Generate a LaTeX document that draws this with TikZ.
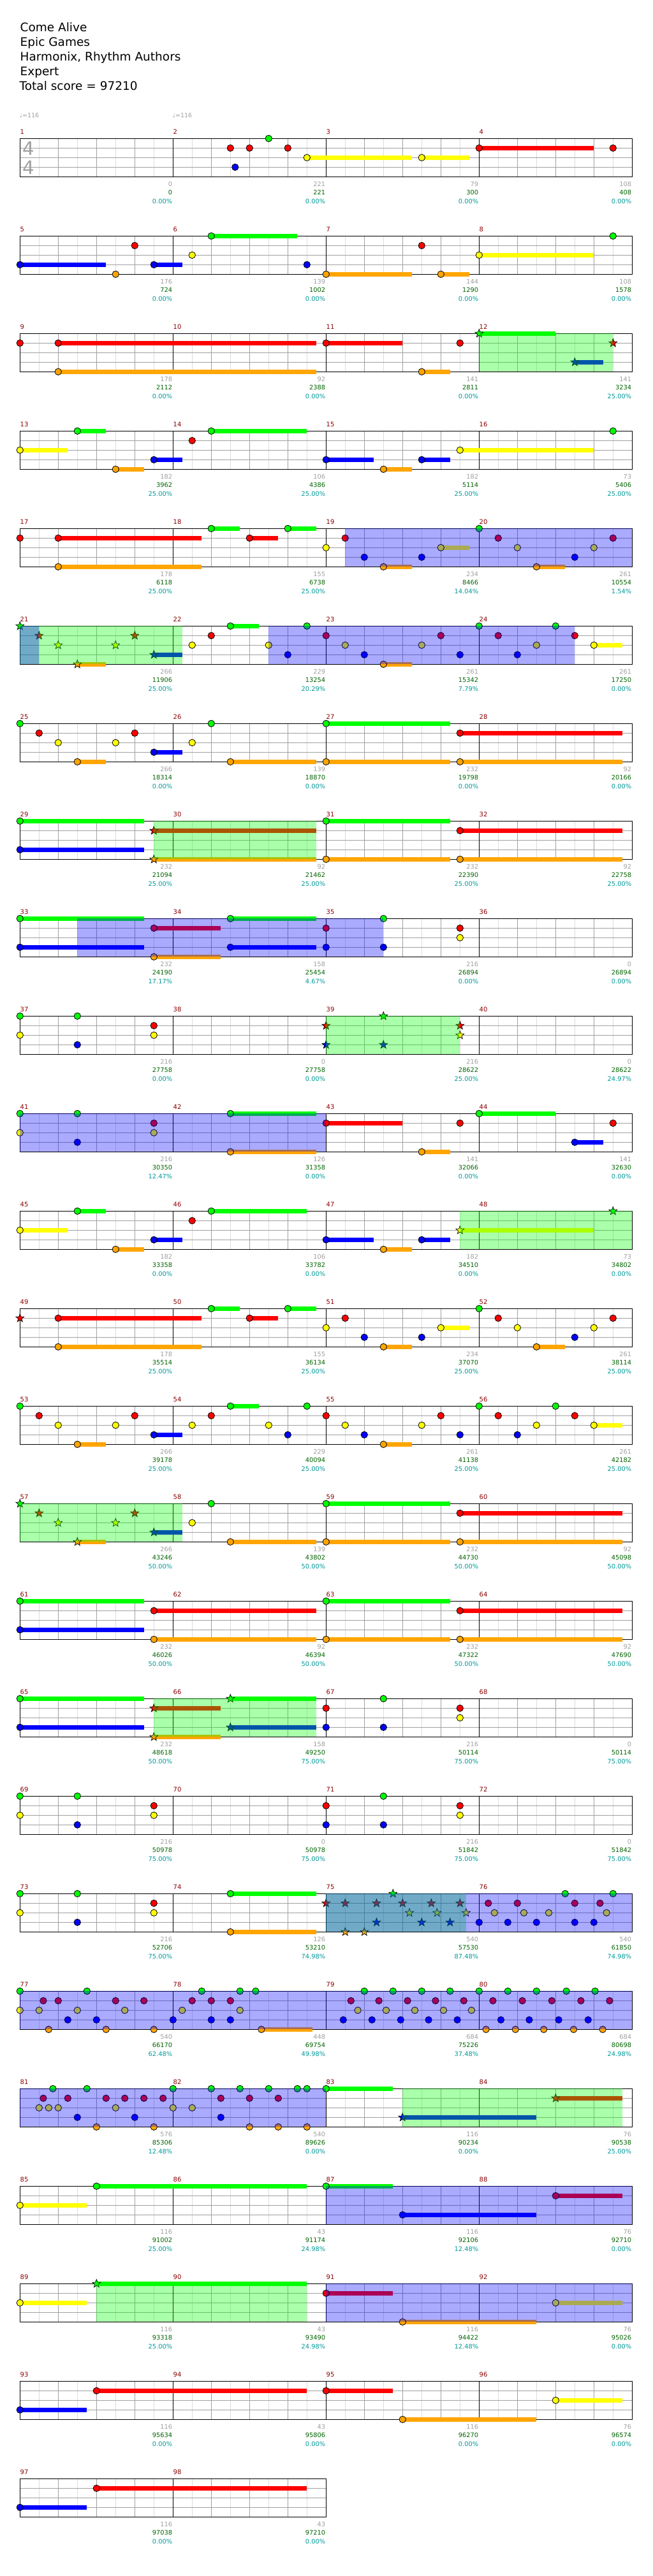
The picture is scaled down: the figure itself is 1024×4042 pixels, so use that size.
\documentclass[tikz,border=0pt]{standalone}
\usepackage{fontspec}
\setmainfont{DejaVu Sans}
\definecolor{lane0}{RGB}{0,255,0}
\definecolor{lane1}{RGB}{255,0,0}
\definecolor{lane2}{RGB}{255,255,0}
\definecolor{lane3}{RGB}{0,0,255}
\definecolor{lane4}{RGB}{255,165,0}
\definecolor{gridd}{RGB}{160,160,160}
\definecolor{gridl}{RGB}{220,220,220}
\definecolor{mnum}{RGB}{139,0,0}
\definecolor{scgray}{RGB}{160,160,160}
\definecolor{scgreen}{RGB}{0,100,0}
\definecolor{sccyan}{RGB}{0,153,153}
\tikzset{
  notestyle/.style={draw=black, line width=0.8},
  susstyle/.style={line width=6.5},
  mnumst/.style={text=mnum, inner sep=0, font=\fontsize{10}{12}\selectfont},
  scst/.style={inner sep=0, font=\fontsize{9.8}{12}\selectfont},
  titlest/.style={inner sep=0, anchor=base west, font=\fontsize{18.5}{22}\selectfont}
}
\newcommand\NoteAt[3]{\edef\tmpcol{lane#3}\filldraw[notestyle, fill=\tmpcol] ({31.3+60*(#2)},{217.3+153*(#1)+15*(#3)}) circle[radius=5.2];}
\newcommand\StarAt[3]{\edef\tmpcol{lane#3}\filldraw[notestyle, line width=0.7, fill=\tmpcol, shift={({31.3+60*(#2)},{217.3+153*(#1)+15*(#3)})}] (-90:6.8) -- (-54:2.8) -- (-18:6.8) -- (18:2.8) -- (54:6.8) -- (90:2.8) -- (126:6.8) -- (162:2.8) -- (198:6.8) -- (234:2.8) -- cycle;}
\newcommand\SusAt[4]{\edef\tmpcol{lane#4}\draw[susstyle, draw=\tmpcol] ({31.3+60*(#2)},{217.3+153*(#1)+15*(#4)}) -- ({31.3+60*(#3)},{217.3+153*(#1)+15*(#4)});}
\newcommand\Notes[2]{\foreach \xb/\xl in {#2}{\NoteAt{#1}{\xb}{\xl}}}
\newcommand\Stars[2]{\foreach \xb/\xl in {#2}{\StarAt{#1}{\xb}{\xl}}}
\newcommand\Sus[2]{\foreach \xb/\xe/\xl in {#2}{\SusAt{#1}{\xb}{\xe}{\xl}}}
\newcommand\GreenReg[3]{\fill[lane0, fill opacity=0.333] ({31.3+60*(#2)},{217.3+153*(#1)}) rectangle ({31.3+60*(#3)},{217.3+153*(#1)+60});}
\newcommand\BlueReg[3]{\fill[lane3, fill opacity=0.333] ({31.3+60*(#2)},{217.3+153*(#1)}) rectangle ({31.3+60*(#3)},{217.3+153*(#1)+60});}
\newcommand\MeasGrid[2]{%
  \begin{scope}[shift={({31.3+240*(#2)},{217.3+153*(#1)})}]
    \foreach \gx in {30,90,150,210} \draw[gridl] (\gx,0) -- (\gx,60);
    \foreach \gx in {60,120,180} \draw[gridd] (\gx,0) -- (\gx,60);
    \foreach \gy in {15,30,45} \draw[gridd] (0,\gy) -- (240,\gy);
    \draw[black] (0,0) rectangle (240,60);
  \end{scope}}
\begin{document}
\begin{tikzpicture}[x=1pt, y=-1pt]
\useasboundingbox (0,0) rectangle (1024,4042);
\fill[white] (0,0) rectangle (1024,4042);
% title
\node[titlest] (t1) at (31.5,49.3) {Come Alive};
\node[titlest] (t2) at (31.5,72.3) {Epic Games};
\node[titlest] (t3) at (31.5,95.5) {Harmonix, Rhythm Authors};
\node[titlest] (t4) at (31.5,118.3) {Expert};
\node[titlest] (t5) at (30.5,141.2) {Total score = 97210};
% tempo
\node[inner sep=0, anchor=base west, text=scgray, font=\fontsize{9.5}{11}\selectfont] (tp1) at (30.5,184) {♩=116};
\node[inner sep=0, anchor=base west, text=scgray, font=\fontsize{9.5}{11}\selectfont] (tp2) at (270.5,184) {♩=116};
% grids and measure numbers
\foreach \mm in {1,...,98}{%
  \pgfmathtruncatemacro\rr{(\mm-1)/4}%
  \pgfmathtruncatemacro\cc{mod(\mm-1,4)}%
  \MeasGrid{\rr}{\cc}
  \node[mnumst, anchor=base west] (mn\mm) at ({31.5+240*\cc},{217.3+153*\rr-7.3}) {\mm};
}
% time signature
\node[inner sep=0, text=gridd, font=\fontsize{29}{30}\selectfont] (ts1) at (44.5,232.6) {4};
\node[inner sep=0, text=gridd, font=\fontsize{29}{30}\selectfont] (ts2) at (44.5,262.6) {4};
% scores
\foreach \mm/\xa/\xc/\xp in {1/0/0/0.00, 2/221/221/0.00, 3/79/300/0.00, 4/108/408/0.00,
 5/176/724/0.00, 6/139/1002/0.00, 7/144/1290/0.00, 8/108/1578/0.00,
 9/178/2112/0.00, 10/92/2388/0.00, 11/141/2811/0.00, 12/141/3234/25.00,
 13/182/3962/25.00, 14/106/4386/25.00, 15/182/5114/25.00, 16/73/5406/25.00,
 17/178/6118/25.00, 18/155/6738/25.00, 19/234/8466/14.04, 20/261/10554/1.54,
 21/266/11906/25.00, 22/229/13254/20.29, 23/261/15342/7.79, 24/261/17250/0.00,
 25/266/18314/0.00, 26/139/18870/0.00, 27/232/19798/0.00, 28/92/20166/0.00,
 29/232/21094/25.00, 30/92/21462/25.00, 31/232/22390/25.00, 32/92/22758/25.00,
 33/232/24190/17.17, 34/158/25454/4.67, 35/216/26894/0.00, 36/0/26894/0.00,
 37/216/27758/0.00, 38/0/27758/0.00, 39/216/28622/25.00, 40/0/28622/24.97,
 41/216/30350/12.47, 42/126/31358/0.00, 43/141/32066/0.00, 44/141/32630/0.00,
 45/182/33358/0.00, 46/106/33782/0.00, 47/182/34510/0.00, 48/73/34802/0.00,
 49/178/35514/25.00, 50/155/36134/25.00, 51/234/37070/25.00, 52/261/38114/25.00,
 53/266/39178/25.00, 54/229/40094/25.00, 55/261/41138/25.00, 56/261/42182/25.00,
 57/266/43246/50.00, 58/139/43802/50.00, 59/232/44730/50.00, 60/92/45098/50.00,
 61/232/46026/50.00, 62/92/46394/50.00, 63/232/47322/50.00, 64/92/47690/50.00,
 65/232/48618/50.00, 66/158/49250/75.00, 67/216/50114/75.00, 68/0/50114/75.00,
 69/216/50978/75.00, 70/0/50978/75.00, 71/216/51842/75.00, 72/0/51842/75.00,
 73/216/52706/75.00, 74/126/53210/74.98, 75/540/57530/87.48, 76/540/61850/74.98,
 77/540/66170/62.48, 78/448/69754/49.98, 79/684/75226/37.48, 80/684/80698/24.98,
 81/576/85306/12.48, 82/540/89626/0.00, 83/116/90234/0.00, 84/76/90538/25.00,
 85/116/91002/25.00, 86/43/91174/24.98, 87/116/92106/12.48, 88/76/92710/0.00,
 89/116/93318/25.00, 90/43/93490/24.98, 91/116/94422/12.48, 92/76/95026/0.00,
 93/116/95634/0.00, 94/43/95806/0.00, 95/116/96270/0.00, 96/76/96574/0.00,
 97/116/97038/0.00, 98/43/97210/0.00}{%
  \pgfmathtruncatemacro\rr{(\mm-1)/4}%
  \pgfmathtruncatemacro\cc{mod(\mm-1,4)}%
  \node[scst, text=scgray, anchor=base east] (sa\mm) at ({31.3+240*(\cc+1)-1},{217.3+153*\rr+75.4}) {\xa};
  \node[scst, text=scgreen, anchor=base east] (sb\mm) at ({31.3+240*(\cc+1)-1},{217.3+153*\rr+88.6}) {\xc};
  \node[scst, text=sccyan, anchor=base east] (sc\mm) at ({31.3+240*(\cc+1)-1},{217.3+153*\rr+102}) {\xp\%};
}
% ---------- row 0
\Sus{0}{7.5/10.24/2, 10.5/11.74/2, 12/15/1}
\Notes{0}{5.5/1, 5.625/3, 6/1, 6.5/0, 7/1, 7.5/2, 10.5/2, 12/1, 15.5/1}
% ---------- row 1
\Sus{1}{0/2.24/3, 3.5/4.24/3, 5/7.25/0, 8/10.24/4, 11/11.74/4, 12/15/2}
\Notes{1}{0/3, 2.5/4, 3/1, 3.5/3, 4.5/2, 5/0, 7.5/3, 8/4, 10.5/1, 11/4, 12/2, 15.5/0}
% ---------- row 2
\Sus{2}{1/7.74/1, 1/7.74/4, 8/10/1, 10.5/11.24/4, 12/14/0, 14.5/15.25/3}
\Notes{2}{0/1, 1/1, 1/4, 8/1, 10.5/4, 11.5/1}
\Stars{2}{12/0, 14.5/3, 15.5/1}
\GreenReg{2}{12}{15.5}
% ---------- row 3
\Sus{3}{0/1.24/2, 1.5/2.24/0, 2.5/3.24/4, 3.5/4.24/3, 5/7.5/0, 8/9.24/3, 9.5/10.24/4, 10.5/11.24/3, 11.5/15/2}
\Notes{3}{0/2, 1.5/0, 2.5/4, 3.5/3, 4.5/1, 5/0, 8/3, 9.5/4, 10.5/3, 11.5/2, 15.5/0}
% ---------- row 4
\Sus{4}{1/4.75/1, 1/4.75/4, 5/5.75/0, 6/6.75/1, 7/7.74/0, 9.5/10.24/4, 11/11.74/2, 13.5/14.25/4}
\Notes{4}{0/1, 1/1, 1/4, 5/0, 6/1, 7/0, 8/2, 8.5/1, 9/3, 9.5/4, 10.5/3, 11/2, 12/0, 12.5/1, 13/2, 13.5/4, 14.5/3, 15/2, 15.5/1}
\BlueReg{4}{8.5}{16}
% ---------- row 5
\Sus{5}{1.5/2.24/4, 3.5/4.24/3, 5.5/6.25/0, 9.5/10.24/4, 15/15.74/2}
\Stars{5}{0/0, 0.5/1, 1/2, 1.5/4, 2.5/2, 3/1, 3.5/3}
\Notes{5}{4.5/2, 5/1, 5.5/0, 6.5/2, 7/3, 7.5/0, 8/1, 8.5/2, 9/3, 9.5/4, 10.5/2, 11/1, 11.5/3, 12/0, 12.5/1, 13/3, 13.5/2, 14/0, 14.5/1, 15/2}
\GreenReg{5}{0}{4.24}
\BlueReg{5}{0}{0.5}
\BlueReg{5}{6.5}{14.5}
% ---------- row 6
\Sus{6}{1.5/2.24/4, 3.5/4.24/3, 5.5/7.74/4, 8/11.24/0, 8/11.24/4, 11.5/15.74/1, 11.5/15.74/4}
\Notes{6}{0/0, 0.5/1, 1/2, 1.5/4, 2.5/2, 3/1, 3.5/3, 4.5/2, 5/0, 5.5/4, 8/0, 8/4, 11.5/1, 11.5/4}
% ---------- row 7
\Sus{7}{0/3.24/0, 0/3.24/3, 3.5/7.74/1, 3.5/7.74/4, 8/11.24/0, 8/11.24/4, 11.5/15.74/1, 11.5/15.74/4}
\Notes{7}{0/0, 0/3, 8/0, 8/4, 11.5/1, 11.5/4}
\Stars{7}{3.5/1, 3.5/4}
\GreenReg{7}{3.5}{7.74}
% ---------- row 8
\Sus{8}{0/3.24/0, 0/3.24/3, 3.5/5.25/1, 3.5/5.25/4, 5.5/7.74/0, 5.5/7.74/3}
\Notes{8}{0/0, 0/3, 3.5/1, 3.5/4, 5.5/0, 5.5/3, 8/1, 8/3, 9.5/0, 9.5/3, 11.5/1, 11.5/2}
\BlueReg{8}{1.5}{9.5}
% ---------- row 9
\Notes{9}{0/0, 0/2, 1.5/0, 1.5/3, 3.5/1, 3.5/2}
\Stars{9}{8/1, 8/3, 9.5/0, 9.5/3, 11.5/1, 11.5/2}
\GreenReg{9}{8}{11.5}
% ---------- row 10
\Sus{10}{5.5/7.74/0, 5.5/7.74/4, 8/10/1, 10.5/11.24/4, 12/14/0, 14.5/15.25/3}
\Notes{10}{0/0, 0/2, 1.5/0, 1.5/3, 3.5/1, 3.5/2, 5.5/0, 5.5/4, 8/1, 10.5/4, 11.5/1, 12/0, 14.5/3, 15.5/1}
\BlueReg{10}{0}{8}
% ---------- row 11
\Sus{11}{0/1.24/2, 1.5/2.24/0, 2.5/3.24/4, 3.5/4.24/3, 5/7.5/0, 8/9.24/3, 9.5/10.24/4, 10.5/11.24/3, 11.5/15/2}
\Notes{11}{0/2, 1.5/0, 2.5/4, 3.5/3, 4.5/1, 5/0, 8/3, 9.5/4, 10.5/3}
\Stars{11}{11.5/2, 15.5/0}
\GreenReg{11}{11.5}{16}
% ---------- row 12
\Sus{12}{1/4.75/1, 1/4.75/4, 5/5.75/0, 6/6.75/1, 7/7.74/0, 9.5/10.24/4, 11/11.74/2, 13.5/14.25/4}
\Stars{12}{0/1}
\Notes{12}{1/1, 1/4, 5/0, 6/1, 7/0, 8/2, 8.5/1, 9/3, 9.5/4, 10.5/3, 11/2, 12/0, 12.5/1, 13/2, 13.5/4, 14.5/3, 15/2, 15.5/1}
% ---------- row 13
\Sus{13}{1.5/2.24/4, 3.5/4.24/3, 5.5/6.25/0, 9.5/10.24/4, 15/15.74/2}
\Notes{13}{0/0, 0.5/1, 1/2, 1.5/4, 2.5/2, 3/1, 3.5/3, 4.5/2, 5/1, 5.5/0, 6.5/2, 7/3, 7.5/0, 8/1, 8.5/2, 9/3, 9.5/4, 10.5/2, 11/1, 11.5/3, 12/0, 12.5/1, 13/3, 13.5/2, 14/0, 14.5/1, 15/2}
% ---------- row 14
\Sus{14}{1.5/2.24/4, 3.5/4.24/3, 5.5/7.74/4, 8/11.24/0, 8/11.24/4, 11.5/15.74/1, 11.5/15.74/4}
\Stars{14}{0/0, 0.5/1, 1/2, 1.5/4, 2.5/2, 3/1, 3.5/3}
\Notes{14}{4.5/2, 5/0, 5.5/4, 8/0, 8/4, 11.5/1, 11.5/4}
\GreenReg{14}{0}{4.24}
% ---------- row 15
\Sus{15}{0/3.24/0, 0/3.24/3, 3.5/7.74/1, 3.5/7.74/4, 8/11.24/0, 8/11.24/4, 11.5/15.74/1, 11.5/15.74/4}
\Notes{15}{0/0, 0/3, 3.5/1, 3.5/4, 8/0, 8/4, 11.5/1, 11.5/4}
% ---------- row 16
\Sus{16}{0/3.24/0, 0/3.24/3, 3.5/5.25/1, 3.5/5.25/4, 5.5/7.74/0, 5.5/7.74/3}
\Notes{16}{0/0, 0/3, 8/1, 8/3, 9.5/0, 9.5/3, 11.5/1, 11.5/2}
\Stars{16}{3.5/1, 3.5/4, 5.5/0, 5.5/3}
\GreenReg{16}{3.5}{7.74}
% ---------- row 17
\Notes{17}{0/0, 0/2, 1.5/0, 1.5/3, 3.5/1, 3.5/2, 8/1, 8/3, 9.5/0, 9.5/3, 11.5/1, 11.5/2}
% ---------- row 18
\Sus{18}{5.5/7.74/0, 5.5/7.74/4}
\Notes{18}{0/0, 0/2, 1.5/0, 1.5/3, 3.5/1, 3.5/2, 5.5/0, 5.5/4,
 12.24/1, 13/1, 14.5/1, 15.16/1, 14.25/0, 15.5/0, 12.4/2, 13.17/2, 13.82/2, 15.33/2, 12/3, 12.75/3, 13.5/3, 14.5/3, 15/3}
\Stars{18}{8/1, 8.5/1, 9.32/1, 10/1, 10.75/1, 11.5/1, 9.75/0, 10.18/2, 10.9/2, 11.66/2, 9.32/3, 10.5/3, 11.24/3, 8.5/4, 9/4}
\GreenReg{18}{8}{11.66}
\BlueReg{18}{8}{16}
% ---------- row 19
\Sus{19}{6.31/7.64/4}
\Notes{19}{0/0, 1.75/0, 4.75/0, 5.75/0, 6.16/0, 9/0, 9.75/0, 10.5/0, 11.24/0, 12/0, 12.75/0, 13.5/0, 14.28/0, 15.03/0,
 0.61/1, 1/1, 2.5/1, 3.24/1, 4.5/1, 5/1, 5.5/1, 8.65/1, 9.38/1, 10.13/1, 10.86/1, 11.6/1, 12.36/1, 13.13/1, 13.9/1, 14.66/1, 15.41/1,
 0/2, 0.5/2, 1.5/2, 2.74/2, 4.24/2, 5.75/2, 8.83/2, 9.57/2, 10.32/2, 11.07/2, 11.8/2,
 1.25/3, 2/3, 4/3, 5/3, 5.5/3, 8.45/3, 9.2/3, 9.95/3, 10.68/3, 11.43/3, 12.57/3, 13.31/3, 14.08/3, 14.85/3,
 0.75/4, 2.25/4, 3.5/4, 6.31/4, 12.18/4, 12.95/4, 13.69/4, 14.47/4, 15.23/4}
\BlueReg{19}{0}{16}
% ---------- row 20
\Sus{20}{8/9.74/0, 10/13.5/3, 14/15.74/1}
\Notes{20}{0.86/0, 1.75/0, 4/0, 5/0, 5.75/0, 6.5/0, 7.25/0, 7.5/0, 8/0,
 0.61/1, 1.25/1, 2.25/1, 2.74/1, 3.24/1, 3.74/1, 5.25/1, 6/1, 6.75/1,
 0.5/2, 0.75/2, 1/2, 2.5/2, 4/2, 4.5/2,
 1.5/3, 3/3, 5.25/3,
 2/4, 3.5/4, 6/4, 6.75/4, 7.5/4}
\Stars{20}{10/3, 14/1}
\BlueReg{20}{0}{8}
\GreenReg{20}{10}{15.74}
% ---------- row 21
\Sus{21}{0/1.74/2, 2/7.5/0, 8/9.74/0, 10/13.5/3, 14/15.74/1}
\Notes{21}{0/2, 2/0, 8/0, 10/3, 14/1}
\BlueReg{21}{8}{16}
% ---------- row 22
\Sus{22}{0/1.74/2, 2/7.5/0, 8/9.74/1, 10/13.5/4, 14/15.74/2}
\Notes{22}{0/2, 8/1, 10/4, 14/2}
\Stars{22}{2/0}
\GreenReg{22}{2}{7.5}
\BlueReg{22}{8}{16}
% ---------- row 23
\Sus{23}{0/1.74/3, 2/7.5/1, 8/9.74/1, 10/13.5/4, 14/15.74/2}
\Notes{23}{0/3, 2/1, 8/1, 10/4, 14/2}
% ---------- row 24
\Sus{24}{0/1.74/3, 2/7.5/1}
\Notes{24}{0/3, 2/1}
\end{tikzpicture}
\end{document}
